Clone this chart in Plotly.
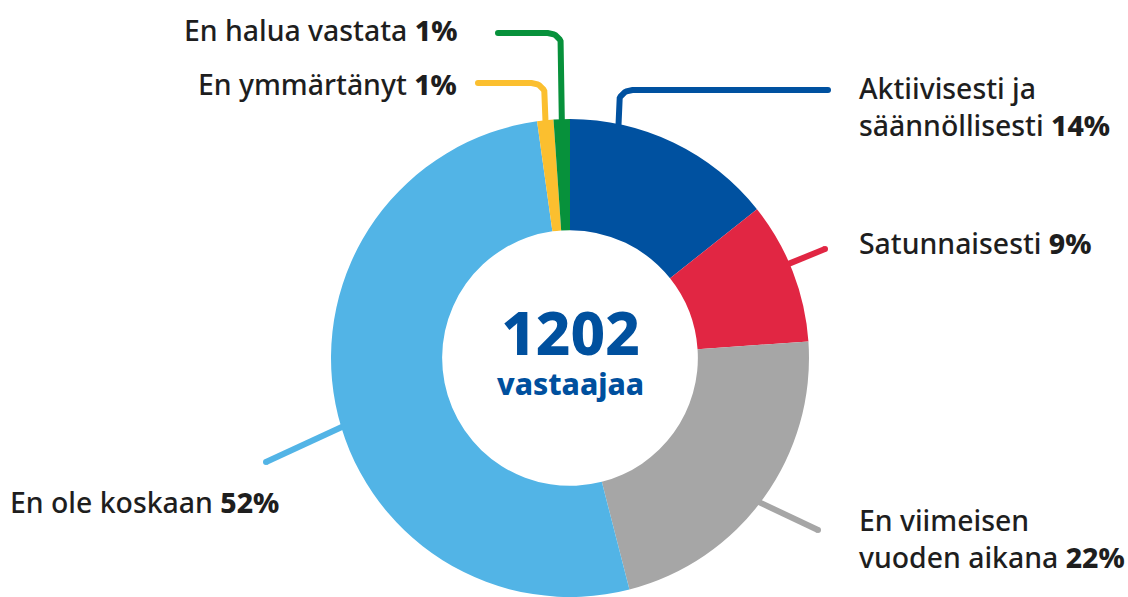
import numpy as np
import plotly.graph_objects as go

# ---------------- data ----------------
categories = [
    "Aktiivisesti ja<br>säännöllisesti",
    "Satunnaisesti",
    "En viimeisen<br>vuoden aikana",
    "En ole koskaan",
    "En ymmärtänyt",
    "En halua vastata",
]
shares = [14.3, 9.6, 22.1, 51.8, 1.1, 1.1]          # slice sizes
shown_pct = ["14%", "9%", "22%", "52%", "1%", "1%"]  # printed labels
colors = ["#0051a0", "#e12643", "#a6a6a6", "#52b4e6", "#fbbf2f", "#07913b"]
respondents = 1202
center_word = "vastaajaa"

# ---------------- geometry ----------------
W, H = 1128, 597
CX, CY, R = 570, 358, 239
HOLE = 0.535

fig = go.Figure()

fig.add_trace(go.Pie(
    labels=categories, values=shares, sort=False, direction="clockwise",
    rotation=0, hole=HOLE, textinfo="none", hoverinfo="skip",
    marker=dict(colors=colors, line=dict(width=0)),
    domain=dict(x=[(CX - R - 1) / W, (CX + R + 1) / W],
                y=[(H - CY - R) / H, (H - CY + R) / H]),
    showlegend=False,
))

# leader lines (derived from slice angles)
tot = sum(shares)
cum = np.concatenate([[0], np.cumsum(shares)]) / tot * 360.0
attach_frac = [0.23, 0.44, 0.52, 0.47, 0.5, 0.5]
leader_kind = ["elbow", "straight", "straight", "straight", "elbow", "elbow"]
leader_end = [(828, 90), (825, 249), (818, 530), (266, 462), (478, 83), (498, 33)]
RC = 14
LW = 6

for i in range(len(shares)):
    th = np.radians(cum[i] + attach_frac[i] * (cum[i + 1] - cum[i]))
    x0 = CX + (R - 3) * np.sin(th)
    y0 = CY - (R - 3) * np.cos(th)
    xe, ye = leader_end[i]
    if leader_kind[i] == "elbow":
        s = 1 if xe > x0 else -1
        t = np.linspace(0, np.pi / 2, 12)
        ax = x0 + s * RC - s * RC * np.cos(t)
        ay = ye + RC - RC * np.sin(t)
        xs = [x0] + list(ax) + [xe]
        ys = [y0] + list(ay) + [ye]
    else:
        xs = [x0, xe]
        ys = [y0, ye]
    fig.add_trace(go.Scatter(
        x=xs, y=ys, mode="lines", line=dict(color=colors[i], width=LW),
        hoverinfo="skip", showlegend=False,
    ))
    fig.add_trace(go.Scatter(
        x=[xe], y=[ye], mode="markers",
        marker=dict(color=colors[i], size=LW, line=dict(width=0)),
        hoverinfo="skip", showlegend=False,
    ))

# labels
label_pos = [(858, 106, "left"), (858, 243, "left"), (858, 538, "left"),
             (9, 502, "left"), (458, 84, "right"), (458, 30, "right")]
FONT = "Noto Sans"
FS = 28.4
for i, cat in enumerate(categories):
    x, y, anc = label_pos[i]
    fig.add_annotation(
        x=x, y=y, xref="x", yref="y", xanchor=anc, yanchor="middle",
        text=f"{cat} <span style='font-weight:800'>{shown_pct[i]}</span>",
        showarrow=False, align=anc, borderpad=0,
        font=dict(family=FONT, size=FS, color="#1e1e1e", weight=500),
    )

# centre text: one block, big number over the word
fig.add_annotation(
    x=CX, y=347, xref="x", yref="y", xanchor="center", yanchor="middle",
    text=(f"<span style='font-size:60px'>{respondents}</span><br>"
          f"<span style='font-size:30px'>{center_word}</span>"),
    showarrow=False, borderpad=0, align="center",
    font=dict(family=FONT, size=31, color="#00509e", weight=800),
)

fig.update_layout(
    width=W, height=H, margin=dict(l=0, r=0, t=0, b=0),
    paper_bgcolor="white", plot_bgcolor="rgba(0,0,0,0)",
    xaxis=dict(range=[0, W], visible=False, fixedrange=True),
    yaxis=dict(range=[H, 0], visible=False, fixedrange=True),
    showlegend=False,
)

fig.write_html("out.html", config={"displayModeBar": False},
               post_script="document.body.style.margin='0';")
